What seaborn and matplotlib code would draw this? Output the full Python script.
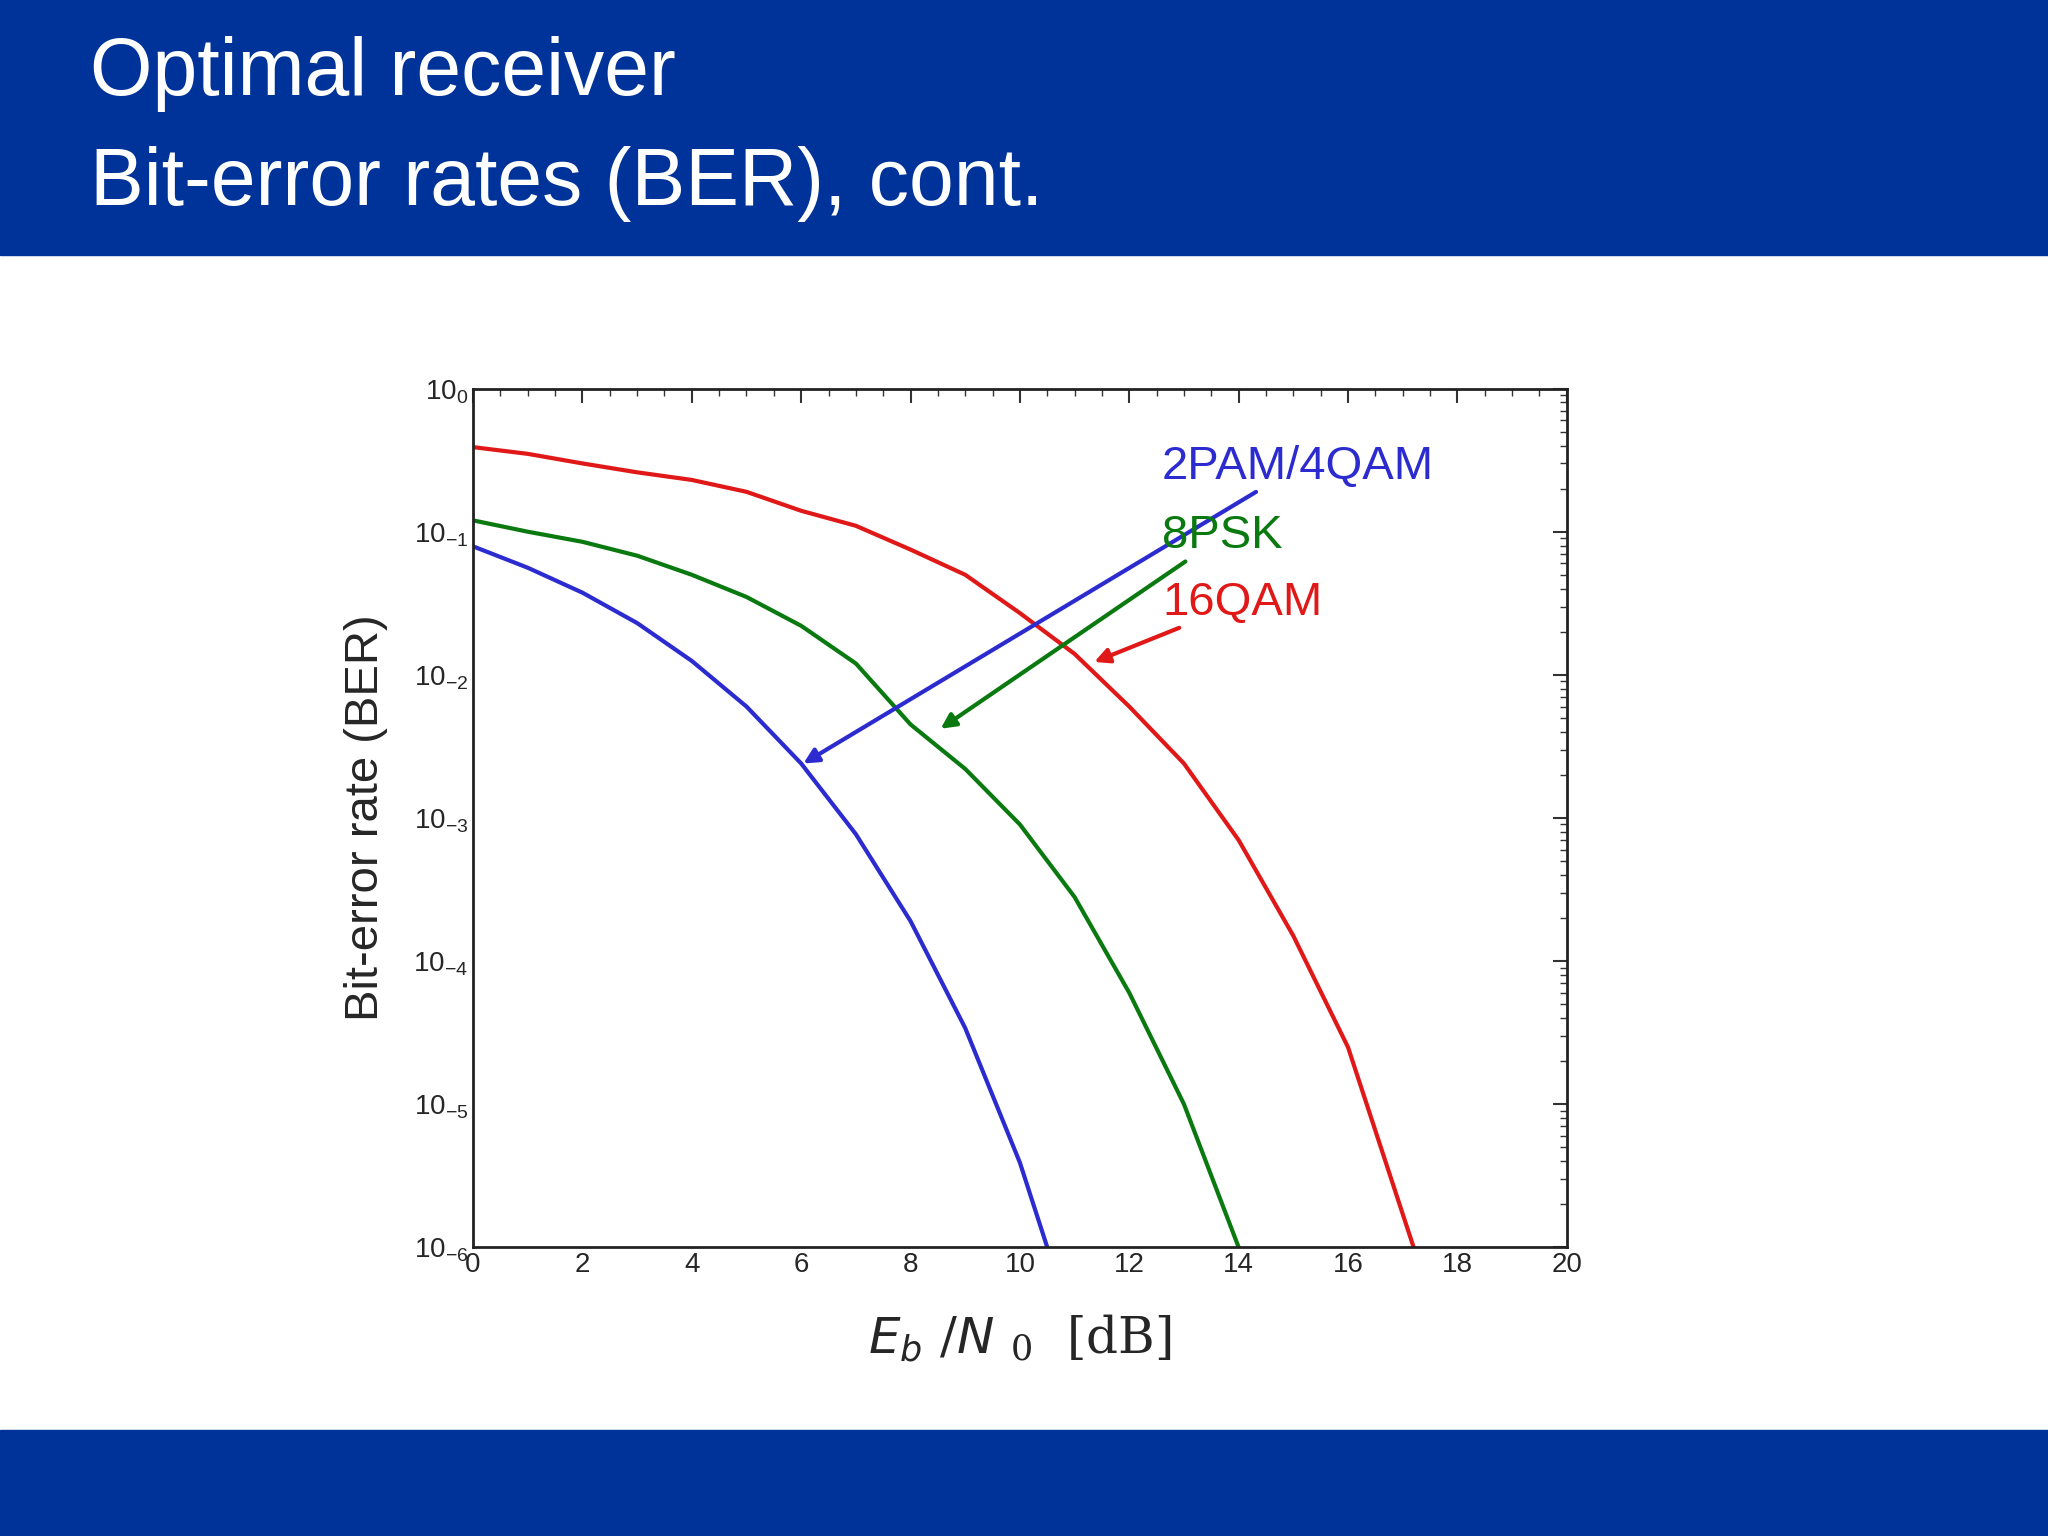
import numpy as np
import pandas as pd
import matplotlib
matplotlib.use("Agg")
import matplotlib.pyplot as plt
import seaborn as sns
from matplotlib.ticker import FixedLocator, NullFormatter

ebn0_2pam = [0, 1, 2, 3, 4, 5, 6, 7, 8, 9, 10, 10.5]
ber_2pam = [7.9e-2, 5.6e-2, 3.75e-2, 2.3e-2, 1.25e-2, 6.0e-3, 2.4e-3, 7.7e-4, 1.9e-4, 3.4e-5, 3.9e-6, 1e-6]
ebn0_8psk = [0, 1, 2, 3, 4, 5, 6, 7, 8, 9, 10, 11, 12, 13, 14]
ber_8psk = [0.12, 0.10, 0.085, 0.068, 0.05, 0.035, 0.022, 0.012, 4.5e-3, 2.2e-3, 9e-4, 2.8e-4, 6e-5, 1e-5, 1e-6]
ebn0_16qam = [0, 1, 2, 3, 4, 5, 6, 7, 8, 9, 10, 11, 12, 13, 14, 15, 16, 17.2]
ber_16qam = [0.39, 0.35, 0.30, 0.26, 0.23, 0.19, 0.14, 0.11, 0.075, 0.05, 0.027, 0.014, 6e-3, 2.4e-3, 7e-4, 1.5e-4, 2.5e-5, 1e-6]
series = ["2PAM/4QAM", "8PSK", "16QAM"]
colors = ["#2b2bd0", "#0a7a10", "#e01818"]
label_pos = [(12.6, 0.285), (12.6, 0.093), (12.6, 0.032)]
arrow_tip = [(6.04, 2.4e-3), (8.55, 4.2e-3), (11.36, 0.0123)]
xticks = list(range(0, 21, 2))
yticks = [1e0, 1e-1, 1e-2, 1e-3, 1e-4, 1e-5, 1e-6]
ytick_labels = ["10$_{0}$", "10$_{-1}$", "10$_{-2}$", "10$_{-3}$", "10$_{-4}$", "10$_{-5}$", "10$_{-6}$"]

df = pd.concat([
    pd.DataFrame({"x": ebn0_2pam, "y": ber_2pam, "s": series[0]}),
    pd.DataFrame({"x": ebn0_8psk, "y": ber_8psk, "s": series[1]}),
    pd.DataFrame({"x": ebn0_16qam, "y": ber_16qam, "s": series[2]}),
])

sns.set_theme(style="white")
plt.rcParams['font.family'] = ['Liberation Sans', 'DejaVu Sans']
plt.rcParams['mathtext.default'] = 'regular'

fig = plt.figure(figsize=(20.48, 15.36), dpi=100)
band = "#003399"
fig.patches.append(plt.Rectangle((0, 0.834), 1, 0.166, transform=fig.transFigure, color=band, zorder=0))
fig.patches.append(plt.Rectangle((0, 0), 1, 0.069, transform=fig.transFigure, color=band, zorder=0))
fig.text(0.044, 0.952, "Optimal receiver", color="white", fontsize=58, va="center")
fig.text(0.044, 0.880, "Bit-error rates (BER), cont.", color="white", fontsize=58, va="center")

ax = fig.add_axes([0.231, 0.188, 0.534, 0.559])
sns.lineplot(data=df, x="x", y="y", hue="s", palette=colors, ax=ax, linewidth=3, legend=False, sort=False)
ax.set_yscale("log")
ax.set_xlim(0, 20)
ax.set_ylim(1e-6, 1)
ax.set_xticks(xticks)
ax.set_xticklabels([str(t) for t in xticks], fontsize=20)
ax.yaxis.set_major_locator(FixedLocator(yticks))
ax.set_yticklabels(ytick_labels, fontsize=20)
ax.yaxis.set_minor_locator(FixedLocator([m * 10.0**e for e in range(-6, 0) for m in range(2, 10)]))
ax.yaxis.set_minor_formatter(NullFormatter())
ax.xaxis.set_minor_locator(FixedLocator(np.arange(0, 20.1, 0.5)))
ax.tick_params(which="both", direction="in", top=True, right=True, color="#333333")
ax.tick_params(which="major", length=10, width=1.5)
ax.tick_params(which="minor", length=5, width=1)
for sp in ax.spines.values():
    sp.set_color("#222222"); sp.set_linewidth(2)
ax.set_xlabel(r"$\mathit{E_b}\ /\mathit{N}\ _{0}\ \ $[dB]", fontsize=36, family="DejaVu Serif", labelpad=25)
plt.rcParams['mathtext.fontset'] = 'dejavuserif'
ax.set_ylabel("Bit-error rate (BER)", fontsize=34, labelpad=18)

for name, c, lp, tip in zip(series, colors, label_pos, arrow_tip):
    ax.annotate(name, xy=tip, xytext=lp, color=c, fontsize=34, va="center", ha="left",
                arrowprops=dict(arrowstyle="-|>", color=c, lw=3, mutation_scale=22, shrinkA=0, shrinkB=0))

fig.savefig("out.png", dpi=100)
